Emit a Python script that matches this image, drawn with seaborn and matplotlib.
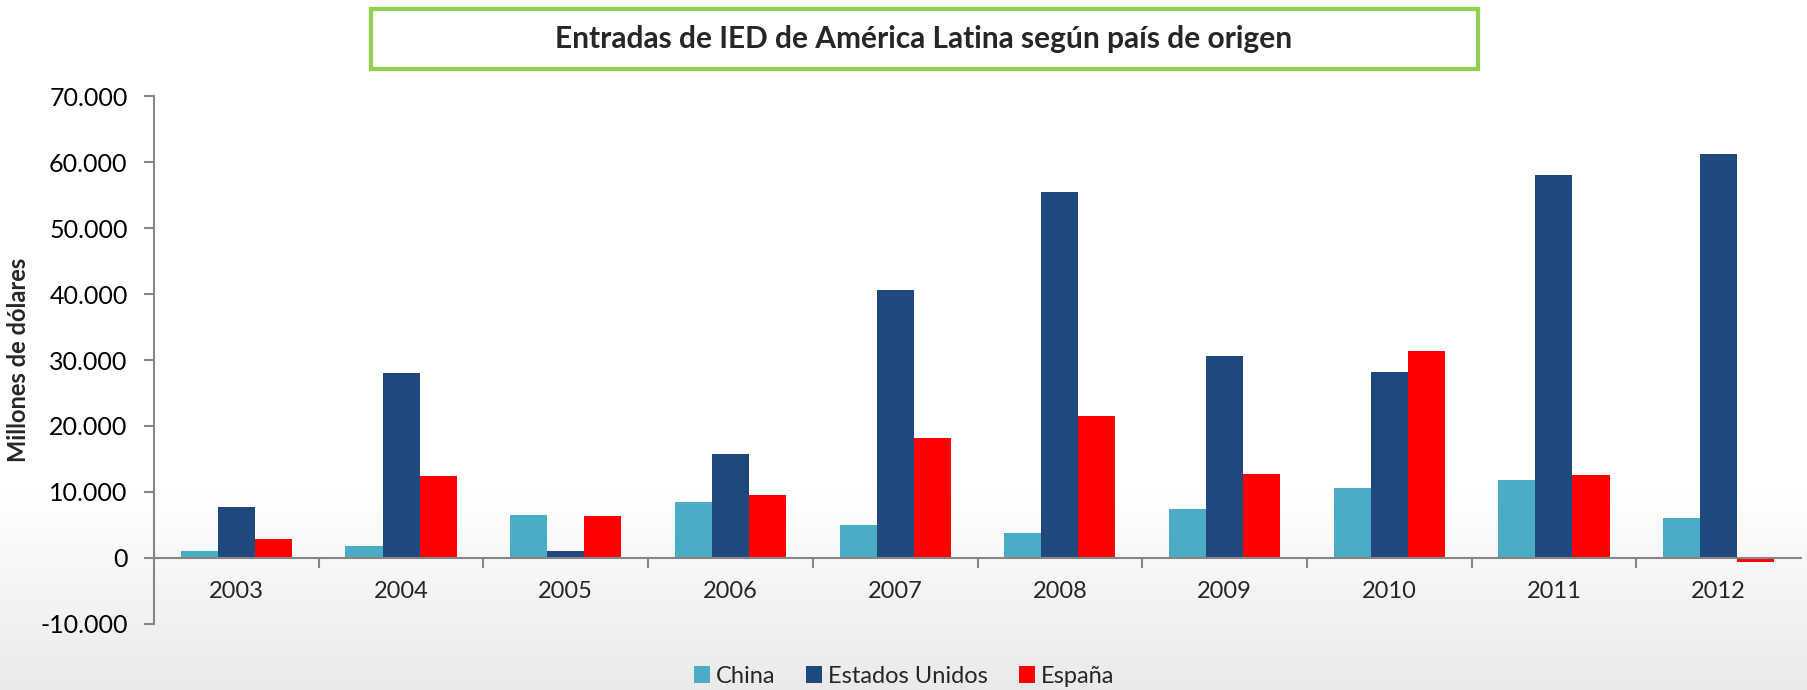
import numpy as np
import pandas as pd
import seaborn as sns
import matplotlib.pyplot as plt
from matplotlib.patches import Rectangle
from matplotlib.ticker import FuncFormatter, MultipleLocator, FixedLocator

# data (millones de dólares)
years = ['2003', '2004', '2005', '2006', '2007', '2008', '2009', '2010', '2011', '2012']
china = [1050, 1750, 6500, 8400, 4900, 3700, 7350, 10500, 11800, 6000]
eeuu = [7700, 28000, 1050, 15750, 40600, 55500, 30600, 28200, 58100, 61200]
espana = [2800, 12400, 6300, 9450, 18200, 21500, 12700, 31300, 12500, -700]
series = ['China', 'Estados Unidos', 'España']
colors = ['#4BACC6', '#1F497D', '#FF0000']

df = pd.DataFrame({'year': years * 3,
                   'value': china + eeuu + espana,
                   'pais': [s for s in series for _ in years]})

sns.set_style('white')
plt.rcParams['font.family'] = ['Lato', 'DejaVu Sans']

fig = plt.figure(figsize=(18.08, 6.9), dpi=100)

# background gradient (white -> light gray at the bottom)
bg = fig.add_axes([0, 0, 1, 1], zorder=-10)
g = np.ones((200, 1))
n = 60
g[-n:, 0] = np.linspace(1.0, 0.915, n)
bg.imshow(g, aspect='auto', cmap='gray', vmin=0, vmax=1, extent=[0, 1, 0, 1])
bg.axis('off')

ax = fig.add_axes([154 / 1808, 66.5 / 690, 1647 / 1808, 527 / 690])
ax.patch.set_alpha(0)
sns.barplot(data=df, x='year', y='value', hue='pais', palette=colors,
            saturation=1, width=0.675, gap=0, ax=ax, legend=True,
            edgecolor='none')

ax.set_xlim(-0.5, len(years) - 0.5)
ax.set_ylim(-10000, 70000)
ax.yaxis.set_major_locator(MultipleLocator(10000))
ax.yaxis.set_major_formatter(FuncFormatter(lambda v, p: f'{v:,.0f}'.replace(',', '.')))

gray = '#868686'
for s in ['top', 'right']:
    ax.spines[s].set_visible(False)
ax.spines['left'].set_color(gray)
ax.spines['left'].set_linewidth(1.5)
ax.spines['bottom'].set_position(('data', 0))
ax.spines['bottom'].set_color(gray)
ax.spines['bottom'].set_linewidth(1.5)

ax.tick_params(axis='y', left=True, length=7, width=1.5, color=gray,
               labelsize=18, labelcolor='black', pad=12)
ax.tick_params(axis='x', which='major', length=0, labelsize=17, pad=16.5)
ax.xaxis.set_minor_locator(FixedLocator(np.arange(0.5, len(years) - 1, 1)))
ax.tick_params(axis='x', which='minor', bottom=True, length=7, width=1.5,
               color=gray, direction='out')

ax.set_xlabel('')
ax.set_ylabel('Millones de dólares', fontsize=17, fontweight='bold')
ax.yaxis.set_label_coords(-0.0752, 0.5)

# legend at the bottom
handles, labels = ax.get_legend_handles_labels()
ax.legend_.remove()
fig.legend(handles, labels, loc='center', bbox_to_anchor=(0.5, 0.02), ncol=3,
           frameon=False, fontsize=17, handlelength=0.68, handleheight=0.68,
           handletextpad=0.25, columnspacing=1.3)

# title box
fig.patches.append(Rectangle((371 / 1808, 0.9), (1478 - 371) / 1808, 0.087,
                             transform=fig.transFigure, facecolor='white',
                             edgecolor='#92D050', linewidth=3, zorder=5))
fig.text(0.511, 0.9435, 'Entradas de IED de América Latina según país de origen',
         ha='center', va='center', fontsize=21.5, fontweight='bold', zorder=6)

fig.savefig('out.png', dpi=100)
